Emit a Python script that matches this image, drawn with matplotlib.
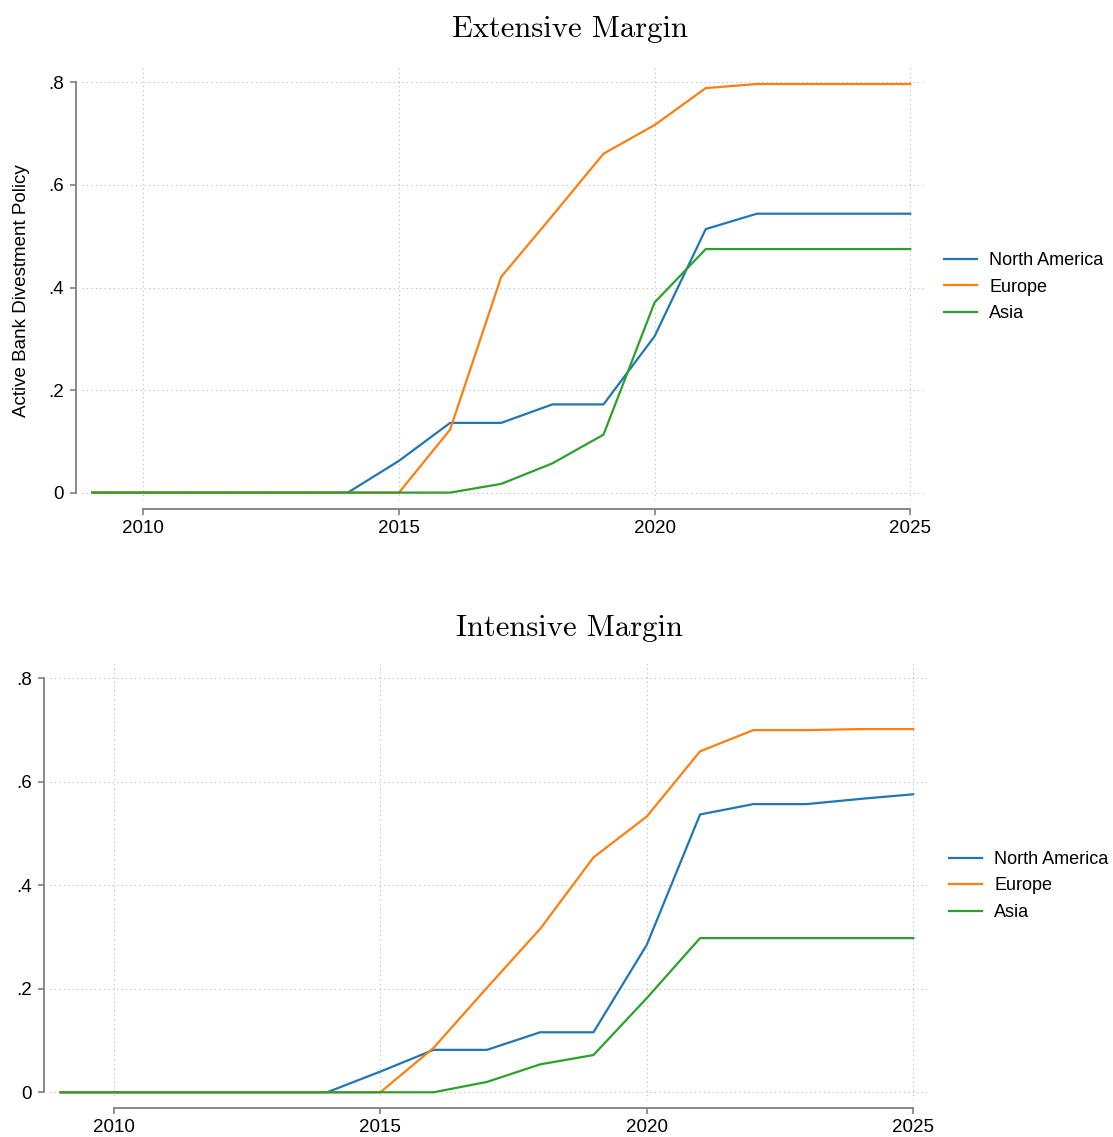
import matplotlib
matplotlib.use("Agg")
import matplotlib.pyplot as plt

years = list(range(2009, 2026))

# Extensive margin
na_ext = [0, 0, 0, 0, 0, 0, 0.062, 0.136, 0.136, 0.172, 0.172, 0.305, 0.514, 0.544, 0.544, 0.544, 0.544]
eu_ext = [0, 0, 0, 0, 0, 0, 0, 0.123, 0.421, 0.54, 0.661, 0.717, 0.789, 0.797, 0.797, 0.797, 0.797]
asia_ext = [0, 0, 0, 0, 0, 0, 0, 0, 0.017, 0.057, 0.113, 0.371, 0.475, 0.475, 0.475, 0.475, 0.475]

# Intensive margin
na_int = [0, 0, 0, 0, 0, 0, 0.040, 0.082, 0.082, 0.116, 0.116, 0.285, 0.537, 0.557, 0.557, 0.567, 0.576]
eu_int = [0, 0, 0, 0, 0, 0, 0, 0.086, 0.202, 0.316, 0.454, 0.533, 0.659, 0.700, 0.700, 0.702, 0.702]
asia_int = [0, 0, 0, 0, 0, 0, 0, 0, 0.020, 0.054, 0.072, 0.182, 0.298, 0.298, 0.298, 0.298, 0.298]

regions = ["North America", "Europe", "Asia"]
colors = ["#1f77b4", "#ff7f0e", "#2ca02c"]
yticks = [0, 0.2, 0.4, 0.6, 0.8]
ytick_labels = ["0", ".2", ".4", ".6", ".8"]
xticks = [2010, 2015, 2020, 2025]

plt.rcParams["font.family"] = ["Liberation Sans", "DejaVu Sans"]

fig = plt.figure(figsize=(11.13, 11.37), dpi=100)


def draw_panel(rect, series, title, title_y, legend_pos, ylabel=None):
    ax = fig.add_axes(rect)
    for vals, name, c in zip(series, regions, colors):
        ax.plot(years, vals, color=c, lw=1.6, label=name)
    ax.set_xticks(xticks)
    ax.set_yticks(yticks)
    ax.set_yticklabels(ytick_labels)
    ax.set_xlim(2008.8, 2025.28)
    ax.set_ylim(-0.015, 0.83)
    ax.grid(True, linestyle=(0, (1, 3)), color="#bbbbbb", lw=0.8)
    for s in ["top", "right"]:
        ax.spines[s].set_visible(False)
    ax.spines["left"].set_bounds(0, 0.8)
    ax.spines["bottom"].set_bounds(2010, 2025)
    ax.spines["left"].set_position(("outward", 4))
    ax.spines["bottom"].set_position(("outward", 6))
    for s in ["left", "bottom"]:
        ax.spines[s].set_color("#7f7f7f")
        ax.spines[s].set_linewidth(1.3)
    ax.tick_params(colors="#7f7f7f", labelcolor="black", labelsize=13.5,
                   length=4, width=1.2)
    ax.tick_params(axis="x", pad=4)
    ax.tick_params(axis="y", pad=5)
    if ylabel:
        ax.set_ylabel(ylabel, fontsize=13.5)
        ax.yaxis.set_label_coords(-0.062, 0.485)
    fig.text(0.512, title_y, title, fontfamily="cmr10", fontsize=22,
             ha="center", va="center")
    ax.legend(loc="center left", bbox_to_anchor=legend_pos,
              bbox_transform=fig.transFigure, frameon=False, fontsize=13,
              handlelength=1.8, handletextpad=0.7, labelspacing=0.52,
              borderpad=0, borderaxespad=0)
    return ax


draw_panel([0.0737, 0.560, 0.757, 0.381], [na_ext, eu_ext, asia_ext],
           "Extensive Margin", 1 - 29 / 1137, (944 / 1113, 1 - 287 / 1137),
           ylabel="Active Bank Divestment Policy")
draw_panel([0.0449, 0.0325, 0.789, 0.3845], [na_int, eu_int, asia_int],
           "Intensive Margin", 1 - 628 / 1137, (949 / 1113, 1 - 886 / 1137))

fig.savefig("out.png", dpi=100)
